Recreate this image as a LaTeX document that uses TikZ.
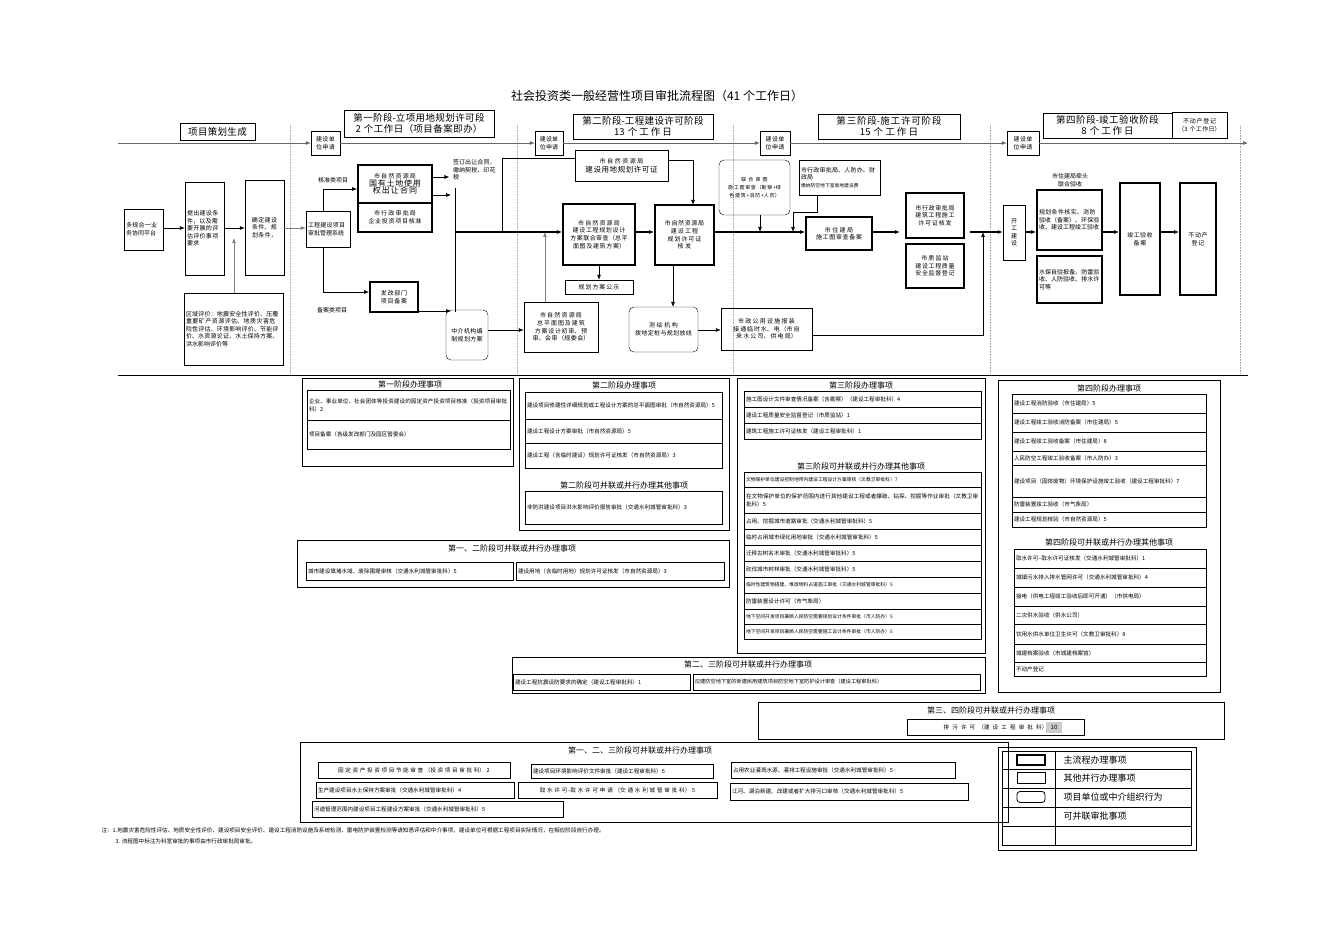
\documentclass[tikz,border=0pt]{standalone}
\usepackage{fontspec}
\setmainfont{Noto Sans CJK SC}
\XeTeXlinebreaklocale "zh"
\XeTeXlinebreakskip=0pt plus 1pt
\usetikzlibrary{arrows.meta}
\newcommand\bx[7][]{%
 \pgfmathsetmacro\bxw{#5-#3}\pgfmathsetmacro\bxh{#6-#4}\pgfmathsetmacro\bxt{#5-#3-4}%
 \node[draw,inner sep=2pt,align=center,minimum width=\bxw pt,minimum height=\bxh pt,text width=\bxt pt,#1] (#2) at ({(#3+#5)/2},{(#4+#6)/2}) {#7};}
\tikzset{
 sm/.style={font=\fontsize{6}{7.6}\selectfont},
 md/.style={font=\fontsize{7.5}{9}\selectfont},
 hd/.style={font=\fontsize{9.5}{10.5}\selectfont},
 tt/.style={font=\fontsize{8}{9}\selectfont},
 row/.style={font=\fontsize{5.6}{8}\selectfont,align=left},
 tk/.style={line width=1.8pt},
 rb/.style={rounded corners=5pt},
 ar/.style={-{Latex[length=5pt,width=4pt]},line width=0.7pt},
 dl/.style={densely dotted,gray!70,line width=0.6pt},
}
\begin{document}
\begin{tikzpicture}[x=1pt,y=-1pt]
\useasboundingbox (0,0) rectangle (1320,933);
\node[font=\fontsize{12}{14}\selectfont] (title) at (657,96) {社会投资类一般经营性项目审批流程图（41 个工作日）};
\foreach \x in {290,517,733,990,1240} \draw[dl] (\x,125) -- (\x,375);
\draw[line width=0.8pt] (118,375) -- (1248,375);
% header boxes
\bx[hd]{h0}{180}{123}{255}{140}{项目策划生成}
\bx[hd,inner sep=1pt]{h1}{344}{110}{494}{137}{第一阶段-立项用地规划许可段\\2 个工作日（项目备案即办）}
\bx[hd,inner sep=1pt]{h2}{573}{114}{713}{139}{第二阶段-工程建设许可阶段\\13 个工作日}
\bx[hd,inner sep=1pt]{h3}{818}{114}{960}{139}{第三阶段-施工许可阶段\\15 个工作日}
\bx[hd,inner sep=1pt]{h4}{1043}{113}{1172}{138}{第四阶段-竣工验收阶段\\8 个工作日}
\bx[sm]{h5}{1172}{112}{1227}{138}{不动产登记\\（3 个工作日）}
\bx[sm]{s1}{311}{131}{340}{155}{建设单位申请}
\bx[sm]{s2}{535}{131}{563}{155}{建设单位申请}
\bx[sm]{s3}{760}{131}{790}{155}{建设单位申请}
\bx[sm]{s4}{1007}{131}{1039}{155}{建设单位申请}
\coordinate (tl0) at (118,143); \coordinate (tlend) at (1248,143);
\draw[ar,gray!80!black] (tl0) -- (s1.west|-tl0);
\draw[ar,gray!80!black] (s1.east|-tl0) -- (s2.west|-tl0);
\draw[ar,gray!80!black] (s2.east|-tl0) -- (s3.west|-tl0);
\draw[ar,gray!80!black] (s3.east|-tl0) -- (s4.west|-tl0);
\draw[ar,gray!80!black] (s4.east|-tl0) -- (tlend);
% left part
\bx[sm,align=left]{a1}{124}{209}{163}{250}{多规合一业务协同平台}
\bx[sm,align=left]{a2}{185}{182}{224}{275}{提出建设条件，以及需要开展的评估评价事项要求}
\bx[sm]{a3}{245}{180}{284}{275}{确定建设条件、规划条件，}
\bx[sm,align=left]{a4}{184}{293}{283}{365}{区域评价：地震安全性评价、压覆重要矿产资源评估、地质灾害危险性评估、环境影响评价、节能评价、水资源论证、水土保持方案、洪水影响评价等}
\bx[sm,align=left]{a5}{306}{211}{350}{247}{工程建设项目审批管理系统}
\draw[ar] (a1.east|-0,228) -- (a2.west|-0,228);
\draw[ar] (a2.east|-0,228) -- (a3.west|-0,228);
\draw[ar,gray] (a4.north-|234,0) -- (234,238);
\draw[ar,gray] (a3.east|-0,228) -- (a5.west|-0,228);
% stage 1
\bx[tk,sm]{b1}{358}{165}{432}{203}{市自然资源局\\{\fontsize{8}{9.5}\selectfont 国有土地使用权出让合同}}
\bx[tk,sm]{b2}{358}{203}{432}{232}{市行政审批局\\企业投资项目核准}
\bx[tk,sm]{b3}{370}{282}{418}{312}{发改部门\\项目备案}
\node[sm] (lk) at (333,180) {核准类项目};
\node[sm] (lb) at (332,310) {备案类项目};
\node[sm,align=left,text width=44pt] (qd) at (475,170) {签订出让合同，缴纳契税、印花税};
\bx[rb,sm]{m1}{446}{310}{488}{360}{中介机构编制规划方案}
\draw[ar] (a5.north-|323,0) |- (b1.west|-0,189);
\draw[ar] (a5.south-|323,0) |- (b3.west|-0,292);
\draw[ar] (b1.east|-0,177) -- (qd.west|-0,177);
\draw[ar] (b1.east|-0,195) -- (451,195);
\draw[ar] (b3.east|-0,311) -- (451,311);
\draw[line width=0.7pt] (455,188) -- (455,312);
% stage 2
\bx[md]{c0}{575}{150}{668}{181}{{\fontsize{6}{7.5}\selectfont 市自然资源局}\\建设用地规划许可证}
\bx[tk,sm]{c1}{563}{204}{635}{265}{市自然资源局\\建设工程规划设计方案联合审查（总平面图及建筑方案）}
\bx[sm]{c2}{565}{280}{633}{294}{规划方案公示}
\bx[sm]{c3}{524}{302}{598}{352}{市自然资源局\\总平面图及建筑方案设计初审、预审、会审（规委会）}
\bx[tk,sm]{c4}{655}{205}{714}{265}{市自然资源局\\建设工程\\规划许可证\\核发}
\bx[rb,sm]{c5}{629}{307}{698}{352}{测绘机构\\拨地定桩与规划放线}
\bx[sm]{c6}{721}{308}{812}{350}{市政公用设施报装\\接通临时水、电（市自来水公司、供电局）}
\draw[line width=1.5pt] (455,232) -- (517,232);
\draw[ar,line width=1.5pt] (517,232) -- (c1.west|-0,232);
\draw[line width=0.7pt] (502,232) -- (502,158) -- (c0.west|-0,158);
\draw[ar] (c0.east|-0,160) -| (693,205);
\draw[ar,gray] (c3.north-|545,0) -- (545,232);
\draw[ar] (m1.east|-0,330) -- (c3.west|-0,330);
\draw[ar] (c1.south-|599,0) -- (c2.north-|599,0);
\draw[ar,line width=1.2pt] (c1.east|-0,232) -- (c4.west|-0,232);
\draw[ar] (c4.south-|673,0) -- (673,307);
\draw[ar] (c5.east|-0,330) -- (c6.west|-0,330);
% stage 3
\bx[rb,font=\fontsize{5}{8}\selectfont]{d1}{719}{160}{790}{215}{联合审图\\施工图审查（勘察+绿色建筑+消防+人防）}
\bx[sm,align=left]{d2}{799}{160}{880}{195}{市行政审批局、人防办、财政局\\{\fontsize{4.8}{6}\selectfont 缴纳防空地下室易地建设费}}
\bx[tk,sm]{d3}{806}{217}{872}{250}{市住建局\\施工图审查备案}
\bx[tk,sm]{d4}{906}{193}{964}{238}{市行政审批局\\建筑工程施工许可证核发}
\bx[tk,sm]{d5}{906}{244}{964}{288}{市质监站\\建设工程质量安全监督登记}
\draw[ar,line width=1.5pt] (c4.east|-0,232) -- (d3.west|-0,232);
\draw[ar] (d1.south-|760,0) -- (760,232);
\draw[ar] (d2.south-|817,0) -- (817,212) -- (793,212) -- (793,232);
\draw[ar,line width=1.2pt] (d3.east|-0,232) -- (900,232);
% stage 4
\bx[sm]{e1}{1003}{205}{1025}{260}{开\\工\\建\\设}
\node[sm,align=center] (e0) at (1070,180) {市住建局牵头\\联合验收};
\bx[tk,sm,align=left]{e2}{1037}{190}{1102}{250}{规划条件核实、消防验收（备案）、环保验收、建设工程竣工验收}
\bx[tk,sm,align=left]{e3}{1037}{256}{1102}{303}{水保自验报备、防雷验收、人防验收、排水许可等}
\bx[tk,sm]{e4}{1120}{183}{1160}{295}{竣工验收\\备案}
\bx[tk,sm]{e5}{1180}{183}{1216}{295}{不动产\\登记}
\draw[ar,line width=1.2pt] (970,232) -- (e1.west|-0,232);
\draw[ar] (c6.east|-0,335) -| (983,232);
\draw[ar,line width=1.2pt] (e1.east|-0,232) -- (e2.west|-0,232);
\draw[ar,line width=1.2pt] (e2.east|-0,232) -- (e4.west|-0,232);
\draw[ar,line width=1.2pt] (e4.east|-0,232) -- (e5.west|-0,232);
% ===== lower tables =====
\draw[line width=0.8pt] (302,378) rectangle (513,466);
\node[tt] (T1) at (410,384) {第一阶段办理事项};
\bx[row]{r11}{307}{390}{510}{420}{企业、事业单位、社会团体等投资建设的固定资产投资项目核准（投资项目审批科）2}
\bx[row]{r12}{307}{420}{510}{449}{项目备案（各级发改部门及园区管委会）}
\draw[line width=0.8pt] (519,378) rectangle (729,530);
\node[tt] (T2) at (624,385) {第二阶段办理事项};
\bx[row]{r21}{525}{392}{722}{419}{建设项目修建性详细规划或工程设计方案的总平面图审批（市自然资源局）5}
\bx[row]{r22}{525}{419}{722}{443}{建设工程设计方案审批（市自然资源局）5}
\bx[row]{r23}{525}{443}{722}{468}{建设工程（含临时建设）规划许可证核发（市自然资源局）3}
\node[tt] (T2b) at (624,485) {第二阶段可并联或并行办理其他事项};
\bx[row]{r24}{525}{491}{722}{524}{非防洪建设项目洪水影响评价报告审批（交通水利城管审批科）3}
\draw[line width=0.8pt] (297,540) rectangle (729,587);
\node[tt] (T12) at (512,548) {第一、二阶段可并联或并行办理事项};
\bx[row]{r31}{306}{562}{513}{580}{城市建设填堵水域、废除围堤审核（交通水利城管审批科）5}
\bx[row]{r32}{516}{562}{724}{580}{建设用地（含临时用地）规划许可证核发（市自然资源局）3}
\draw[line width=0.8pt] (737,378) rectangle (985,653);
\node[tt] (T3) at (861,385) {第三阶段办理事项};
\bx[row]{r41}{744}{391}{981}{407}{施工图设计文件审查情况备案（含勘察）（建设工程审批科）4}
\bx[row]{r42}{744}{407}{981}{423}{建设工程质量安全监督登记（市质监站）1}
\bx[row]{r43}{744}{423}{981}{439}{建筑工程施工许可证核发（建设工程审批科）1}
\node[tt] (T3b) at (861,466) {第三阶段可并联或并行办理其他事项};
\bx[row,font=\fontsize{4.8}{6}\selectfont]{r50}{744}{472}{981}{487}{文物保护单位建设控制地带内建设工程设计方案审核（文教卫审批科）7}
\bx[row]{r51}{744}{487}{981}{513}{在文物保护单位的保护范围内进行其他建设工程或者爆破、钻探、挖掘等作业审批（文教卫审批科）5}
\bx[row]{r52}{744}{513}{981}{529}{占用、挖掘城市道路审批（交通水利城管审批科）5}
\bx[row]{r53}{744}{529}{981}{545}{临时占用城市绿化用地审批（交通水利城管审批科）5}
\bx[row]{r54}{744}{545}{981}{561}{迁移古树名木审批（交通水利城管审批科）5}
\bx[row]{r55}{744}{561}{981}{577}{砍伐城市树林审批（交通水利城管审批科）5}
\bx[row,font=\fontsize{4.8}{6}\selectfont]{r56}{744}{577}{981}{593}{临时性建筑物搭建、堆放物料占道施工审批（交通水利城管审批科）5}
\bx[row]{r57}{744}{593}{981}{609}{防雷装置设计许可（市气象局）}
\bx[row,font=\fontsize{4.8}{6}\selectfont]{r58}{744}{609}{981}{624}{地下空间开发项目兼顾人民防空需要规划设计条件审批（市人防办）5}
\bx[row,font=\fontsize{4.8}{6}\selectfont]{r59}{744}{624}{981}{639}{地下空间开发项目兼顾人民防空需要施工设计条件审批（市人防办）5}
\draw[line width=0.8pt] (998,380) rectangle (1220,692);
\node[tt] (T4) at (1109,388) {第四阶段办理事项};
\bx[row]{r61}{1012}{394}{1206}{413}{建设工程消防验收（市住建局）5}
\bx[row]{r62}{1012}{413}{1206}{432}{建设工程竣工验收消防备案（市住建局）5}
\bx[row]{r63}{1012}{432}{1206}{451}{建设工程竣工验收备案（市住建局）8}
\bx[row]{r64}{1012}{451}{1206}{465}{人民防空工程竣工验收备案（市人防办）3}
\bx[row]{r65}{1012}{465}{1206}{497}{建设项目（固体废物）环境保护设施竣工验收（建设工程审批科）7}
\bx[row]{r66}{1012}{497}{1206}{512}{防雷装置竣工验收（市气象局）}
\bx[row]{r67}{1012}{512}{1206}{527}{建设工程规划核验（市自然资源局）5}
\node[tt] (T4b) at (1109,542) {第四阶段可并联或并行办理其他事项};
\bx[row]{r71}{1014}{549}{1206}{568}{取水许可--取水许可证核发（交通水利城管审批科）1}
\bx[row]{r72}{1014}{568}{1206}{587}{城镇污水排入排水管网许可（交通水利城管审批科）4}
\bx[row]{r73}{1014}{587}{1206}{606}{接电（供电工程竣工验收后即可开通）（市供电局）}
\bx[row]{r74}{1014}{606}{1206}{624}{二次供水验收（供水公司）}
\bx[row]{r75}{1014}{624}{1206}{644}{饮用水供水单位卫生许可（文教卫审批科）8}
\bx[row]{r76}{1014}{644}{1206}{662}{城建档案验收（市城建档案馆）}
\bx[row]{r77}{1014}{662}{1206}{676}{不动产登记}
\draw[line width=0.8pt] (512,657) rectangle (985,693);
\node[tt] (T23) at (748,664) {第二、三阶段可并联或并行办理事项};
\bx[row,inner sep=1pt]{r81}{513}{674}{690}{690}{建设工程抗震设防要求的确定（建设工程审批科）1}
\bx[row,inner sep=1pt,font=\fontsize{5.2}{7}\selectfont]{r82}{693}{674}{980}{690}{应建防空地下室的新建民用建筑项目防空地下室防护设计审查（建设工程审批科）}
\draw[line width=0.8pt] (758,702) rectangle (1224,739);
\node[tt] (T34) at (991,710) {第三、四阶段可并联或并行办理事项};
\bx[row,align=center]{r91}{907}{719}{1084}{735}{排污许可（建设工程审批科）\hspace{42pt}}
\node[fill=gray!40,font=\fontsize{6}{7}\selectfont,minimum width=16pt,minimum height=11pt,inner sep=0pt] (g10) at (1054,727) {10};
\draw[line width=0.8pt] (300,742) rectangle (1008,822);
\node[tt] (T123) at (640,750) {第一、二、三阶段可并联或并行办理事项};
\bx[row,align=center]{q1}{318}{762}{510}{778}{固定资产投资项目节能审查（投资项目审批科）2}
\bx[row,inner sep=1pt]{q2}{531}{764}{713}{778}{建设项目环境影响评价文件审批（建设工程审批科）5}
\bx[row,inner sep=1pt]{q3}{731}{762}{955}{778}{占用农业灌溉水源、灌排工程设施审批（交通水利城管审批科）5}
\bx[row,inner sep=1pt]{q4}{316}{782}{514}{798}{生产建设项目水土保持方案审批（交通水利城管审批科）4}
\bx[row,align=center]{q5}{518}{782}{717}{798}{取水许可--取水许可申请（交通水利城管审批科）5}
\bx[row,inner sep=1pt]{q6}{730}{783}{968}{800}{江河、湖泊新建、改建或者扩大排污口审核（交通水利城管审批科）5}
\bx[row,inner sep=1pt]{q7}{312}{801}{563}{817}{河道管理范围内建设项目工程建设方案审批（交通水利城管审批科）5}
% legend
\draw[line width=0.8pt] (998,747) rectangle (1196,850);
\draw[line width=0.7pt] (1002,751) rectangle (1191,845);
\draw (1055,751) -- (1055,845);
\foreach \y in {769,788,807,826} \draw (1002,\y) -- (1191,\y);
\node[draw,tk,minimum width=28pt,minimum height=10pt,inner sep=0pt] (L1) at (1031,760) {};
\node[draw,minimum width=28pt,minimum height=11pt,inner sep=0pt] (L2) at (1031,778) {};
\node[draw,rounded corners=3pt,line width=0.8pt,minimum width=28pt,minimum height=11pt,inner sep=0pt] (L3) at (1031,797) {};
\node[anchor=west,font=\fontsize{9}{10}\selectfont] (l1) at (1060,760) {主流程办理事项};
\node[anchor=west,font=\fontsize{9}{10}\selectfont] (l2) at (1060,778) {其他并行办理事项};
\node[anchor=west,font=\fontsize{9}{10}\selectfont] (l3) at (1060,797) {项目单位或中介组织行为};
\node[anchor=west,font=\fontsize{9}{10}\selectfont] (l4) at (1060,816) {可并联审批事项};
% notes
\node[anchor=west,font=\fontsize{5.6}{7}\selectfont] (n1) at (98,830) {注：1.地震灾害危险性评估、地质安全性评价、建设项目安全评价、建设工程消防设施及系统检测、雷电防护装置检测等请知悉评估和中介事项，建设单位可根据工程项目实际情况，在相应阶段自行办理。};
\node[anchor=west,font=\fontsize{5.6}{7}\selectfont] (n2) at (112,841) {3. 流程图中标注为科室审批的事项由市行政审批局审批。};
\end{tikzpicture}
\end{document}
